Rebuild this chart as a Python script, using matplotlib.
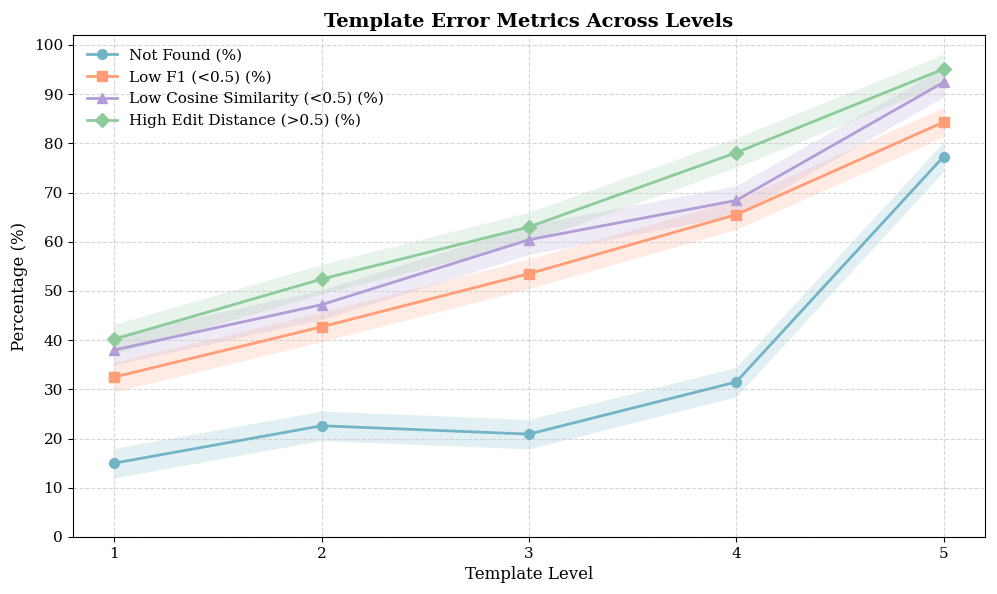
import matplotlib
matplotlib.use("Agg")
import matplotlib.pyplot as plt
import numpy as np

plt.rcParams['font.family'] = ['DejaVu Serif']

levels = [1, 2, 3, 4, 5]
not_found = [15.0, 22.6, 20.9, 31.5, 77.3]
low_f1 = [32.5, 42.7, 53.5, 65.5, 84.3]
low_cosine = [38.0, 47.2, 60.4, 68.4, 92.4]
high_edit = [40.2, 52.4, 63.0, 78.1, 95.1]
band = 3.0

series = [
    ("Not Found (%)", not_found, "#72B4C6", "o"),
    ("Low F1 (<0.5) (%)", low_f1, "#FF9E76", "s"),
    ("Low Cosine Similarity (<0.5) (%)", low_cosine, "#B39DD6", "^"),
    ("High Edit Distance (>0.5) (%)", high_edit, "#8DCB9B", "D"),
]

fig, ax = plt.subplots(figsize=(9.97, 5.94), dpi=100)

for label, vals, color, marker in series:
    v = np.array(vals)
    ax.plot(levels, v, marker=marker, color=color, linewidth=2, markersize=7, label=label)
    ax.fill_between(levels, v - band, v + band, color=color, alpha=0.2, linewidth=0)

ax.set_title("Template Error Metrics Across Levels", fontsize=14, fontweight="bold")
ax.set_xlabel("Template Level", fontsize=12)
ax.set_ylabel("Percentage (%)", fontsize=12)
ax.set_xticks(levels)
ax.set_yticks(range(0, 101, 10))
ax.set_ylim(0, 102)
ax.tick_params(labelsize=11)
ax.grid(True, linestyle="--", color="#cccccc", linewidth=0.8, alpha=0.8)
ax.legend(loc="upper left", frameon=False, fontsize=11)

fig.subplots_adjust(left=0.073, right=0.988, top=0.941, bottom=0.096)
fig.savefig("out.png", dpi=100)
